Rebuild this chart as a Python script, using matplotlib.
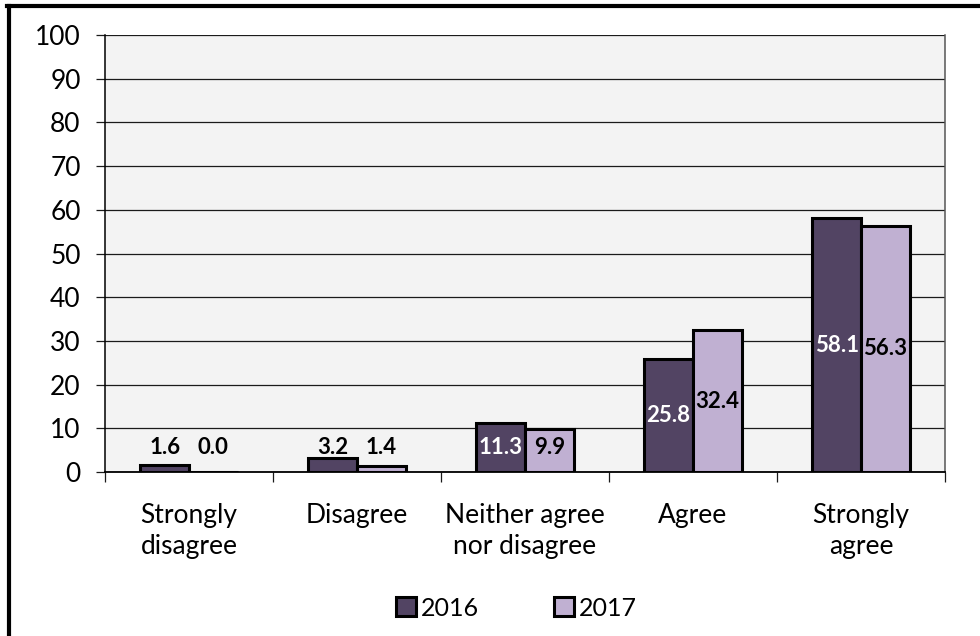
import matplotlib
matplotlib.use("Agg")
import matplotlib.pyplot as plt
from matplotlib.lines import Line2D
import numpy as np

plt.rcParams['font.family'] = ['Lato', 'DejaVu Sans']

categories = ["Strongly\ndisagree", "Disagree", "Neither agree\nnor disagree", "Agree", "Strongly\nagree"]
years = ["2016", "2017"]
values_2016 = [1.6, 3.2, 11.3, 25.8, 58.1]
values_2017 = [0.0, 1.4, 9.9, 32.4, 56.3]
y_ticks = [0, 10, 20, 30, 40, 50, 60, 70, 80, 90, 100]

color_2016 = "#524463"
color_2017 = "#C0B0D2"

fig = plt.figure(figsize=(9.8, 6.36), dpi=100)
ax = fig.add_axes([105 / 980, 1 - 472 / 636, 840 / 980, 437 / 636])
ax.set_facecolor("#F3F3F3")

x = np.arange(len(categories))
w = 0.29
bars16 = ax.bar(x - w / 2, values_2016, w, color=color_2016, edgecolor="black", linewidth=2.2, zorder=3, label=years[0])
bars17 = ax.bar(x + w / 2, values_2017, w, color=color_2017, edgecolor="black", linewidth=2.2, zorder=3, label=years[1])

ax.set_xlim(-0.5, len(categories) - 0.5)
ax.set_ylim(0, 100)
ax.set_yticks(y_ticks)
ax.set_yticklabels([str(t) for t in y_ticks], fontsize=19)
ax.yaxis.grid(True, color="#1a1a1a", linewidth=0.9, zorder=1)
ax.set_axisbelow(True)
ax.tick_params(axis="y", length=6.5, width=0.9, color="#1a1a1a", pad=11)

# category labels sit centred under each group; ticks mark group boundaries
ax.set_xticks(np.arange(len(categories) + 1) - 0.5)
ax.set_xticklabels([])
ax.tick_params(axis="x", length=7, width=0.9, color="#1a1a1a")
for i, c in enumerate(categories):
    ax.text(i, -7.2, c, ha="center", va="top", fontsize=19, linespacing=1.3)

ax.spines["top"].set_visible(False)
ax.spines["left"].set_color("black")
ax.spines["left"].set_linewidth(1.1)
ax.spines["bottom"].set_color("black")
ax.spines["bottom"].set_linewidth(1.3)
ax.spines["right"].set_color("#555555")
ax.spines["right"].set_linewidth(1.1)

# value labels: centred in the bar, lifted above the axis for short bars
min_center = 5.7
for bars, vals, inside_color in [(bars16, values_2016, "white"), (bars17, values_2017, "black")]:
    for b, v in zip(bars, vals):
        yc = v / 2
        col = inside_color
        if yc < min_center:
            yc = min_center
            col = "black" if v < 2 * min_center - 1.5 else inside_color
        ax.text(b.get_x() + b.get_width() / 2, yc, f"{v:.1f}", ha="center", va="center",
                fontsize=16, fontweight="bold", color=col, zorder=4)

leg = fig.legend(handles=[bars16, bars17], labels=years, loc="center", bbox_to_anchor=(0.527, 1 - 608 / 636),
                 ncol=2, frameon=False, fontsize=18, handlelength=0.8, handleheight=0.8,
                 handletextpad=0.2, columnspacing=3.0)

# outer frame (left and top edges)
fig.add_artist(Line2D([8.5 / 980, 8.5 / 980], [0, 1 - 5.5 / 636], transform=fig.transFigure, color="black", linewidth=3))
fig.add_artist(Line2D([7 / 980, 1], [1 - 5.5 / 636, 1 - 5.5 / 636], transform=fig.transFigure, color="black", linewidth=3))

fig.savefig("out.png", dpi=100)
